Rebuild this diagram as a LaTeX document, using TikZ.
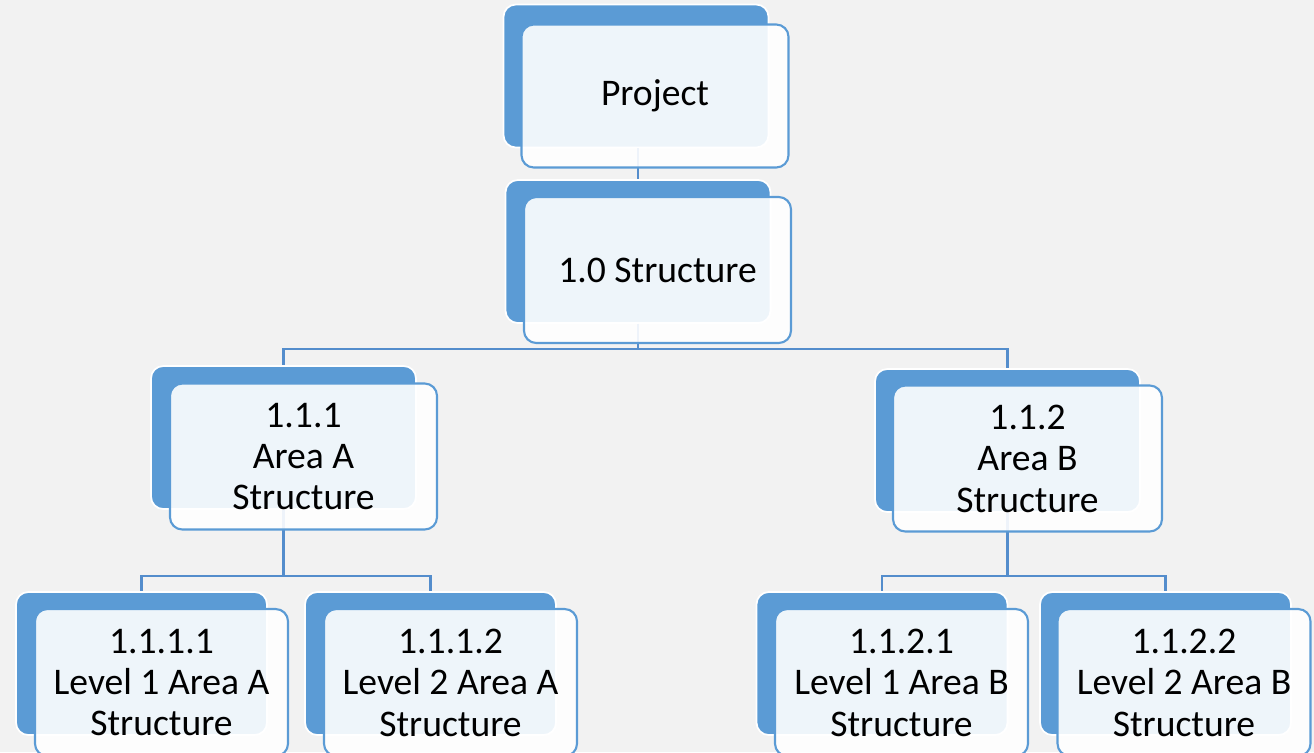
\documentclass[tikz,border=0pt]{standalone}
\usepackage{fontspec}
\setmainfont{Carlito}
\usepackage{xcolor}
\usetikzlibrary{positioning}
\definecolor{wbsblue}{RGB}{91,155,213}
\definecolor{wbsline}{RGB}{84,141,204}
\definecolor{wbsbg}{RGB}{242,242,242}

\begin{document}
\begin{tikzpicture}[
        backbig/.style={fill=wbsblue, draw=white, line width=0.5pt, rounded corners=3.5pt, minimum width=2.65cm, minimum height=1.43cm, inner sep=0pt},
        backsmall/.style={backbig, minimum width=2.51cm},
        frontbig/.style={fill=white, fill opacity=0.9, text opacity=1, draw=wbsblue, line width=0.6pt, rounded corners=3.5pt, minimum width=2.67cm, minimum height=1.46cm, inner sep=0pt, align=center, font=\fontsize{10.7}{11.8}\selectfont},
        frontsmall/.style={frontbig, minimum width=2.53cm, minimum height=1.47cm},
        link/.style={draw=wbsline, line width=0.6pt}
    ]
        \clip (0,0) rectangle (13.14,7.52);
        \fill[wbsbg] (0,0) rectangle (13.14,7.52);
        % back boxes
        \node[backbig] (proj-bk) at (6.36,6.76) {};
        \node[backbig] (struct-bk) at (6.38,5.005) {};
        \node[backbig] (areaA-bk) at (2.835,3.145) {};
        \node[backbig] (areaB-bk) at (10.075,3.115) {};
        \node[backsmall] (a1-bk) at (1.415,0.885) {};
        \node[backsmall] (a2-bk) at (4.305,0.885) {};
        \node[backsmall] (b1-bk) at (8.82,0.885) {};
        \node[backsmall] (b2-bk) at (11.655,0.885) {};
        % connectors
        \draw[link] (proj-bk.south -| struct-bk.north) -- (struct-bk.north);
        \draw[link] (struct-bk.south) -- ++(0,-0.25) -| (areaA-bk.north);
        \draw[link] (struct-bk.south) -- ++(0,-0.25) -| (areaB-bk.north);
        \draw[link] (areaA-bk.south) -- ++(0,-0.66) -| (a1-bk.north);
        \draw[link] (areaA-bk.south) -- ++(0,-0.66) -| (a2-bk.north);
        \draw[link] (areaB-bk.south) -- ++(0,-0.63) -| (b1-bk.north);
        \draw[link] (areaB-bk.south) -- ++(0,-0.63) -| (b2-bk.north);
        % front boxes
        \node[frontbig, minimum height=1.43cm] (proj) at (6.55,6.56) {Project};
        \node[frontbig] (struct) at (6.575,4.82) {1.0 Structure};
        \node[frontbig] (areaA) at (3.035,2.955) {1.1.1\\Area A\\Structure};
        \node[frontbig, minimum width=2.69cm] (areaB) at (10.275,2.935) {1.1.2\\Area B\\Structure};
        \node[frontsmall] (a1) at (1.615,0.695) {1.1.1.1\\Level 1 Area A\\Structure};
        \node[frontsmall] (a2) at (4.505,0.695) {1.1.1.2\\Level 2 Area A\\Structure};
        \node[frontsmall] (b1) at (9.015,0.695) {1.1.2.1\\Level 1 Area B\\Structure};
        \node[frontsmall] (b2) at (11.84,0.695) {1.1.2.2\\Level 2 Area B\\Structure};
    \end{tikzpicture}
\end{document}
